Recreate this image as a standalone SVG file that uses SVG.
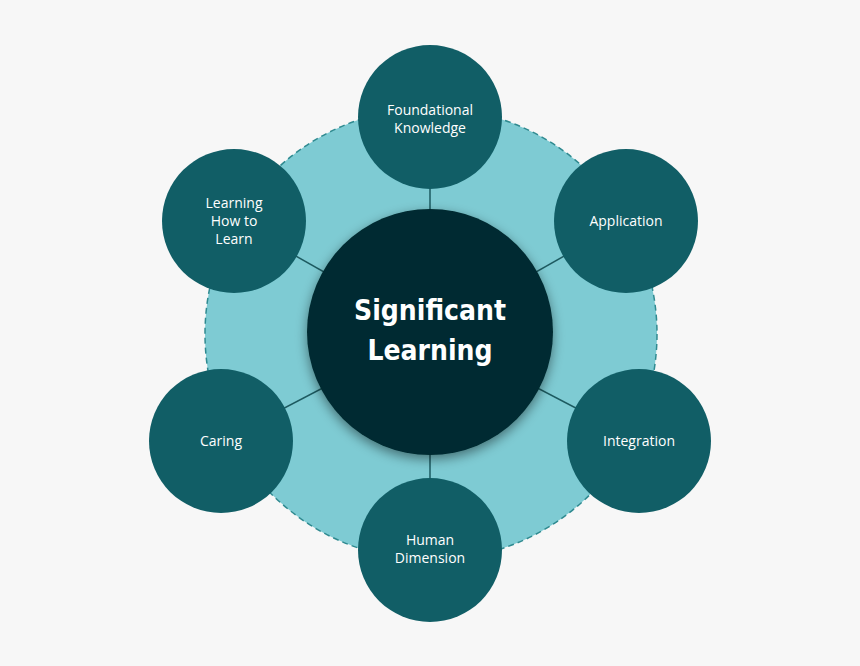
<svg xmlns="http://www.w3.org/2000/svg" width="860" height="666" viewBox="0 0 860 666">
<defs>
<style>
.n{fill:#115e66}
.t{fill:#fff;font-family:"Open Sans","Liberation Sans",sans-serif;font-size:14px;text-anchor:middle}
.c{stroke:#1d5a60;stroke-width:1.5}
</style>
<filter id="sh" x="-30%" y="-30%" width="160%" height="160%"><feDropShadow dx="0" dy="4" stdDeviation="6" flood-color="#000" flood-opacity="0.45"/></filter>
</defs>
<rect width="860" height="666" fill="#f7f7f7"/>
<circle cx="431" cy="334" r="226" fill="#7ecbd3" stroke="#2f8a90" stroke-width="1.5" stroke-dasharray="6 4"/>
<g id="connectors">
<line class="c" x1="430" y1="332" x2="430" y2="117"/>
<line class="c" x1="430" y1="332" x2="626" y2="221"/>
<line class="c" x1="430" y1="332" x2="639" y2="441"/>
<line class="c" x1="430" y1="332" x2="430" y2="550"/>
<line class="c" x1="430" y1="332" x2="221" y2="441"/>
<line class="c" x1="430" y1="332" x2="234" y2="221"/>
</g>
<g id="center"><circle cx="430" cy="332" r="123" fill="#022b30" filter="url(#sh)"/>
<text x="430" y="320" fill="#fff" font-family="'DejaVu Sans Condensed','Liberation Sans',sans-serif" font-weight="bold" font-size="28" text-anchor="middle">Significant</text>
<text x="430" y="360" fill="#fff" font-family="'DejaVu Sans Condensed','Liberation Sans',sans-serif" font-weight="bold" font-size="28" text-anchor="middle">Learning</text></g>
<g id="foundational"><circle class="n" cx="430" cy="117" r="72"/><text class="t" x="430" y="115">Foundational</text><text class="t" x="430" y="133">Knowledge</text></g>
<g id="application"><circle class="n" cx="626" cy="221" r="72"/><text class="t" x="626" y="226">Application</text></g>
<g id="integration"><circle class="n" cx="639" cy="441" r="72"/><text class="t" x="639" y="446">Integration</text></g>
<g id="human"><circle class="n" cx="430" cy="550" r="72"/><text class="t" x="430" y="545">Human</text><text class="t" x="430" y="563">Dimension</text></g>
<g id="caring"><circle class="n" cx="221" cy="441" r="72"/><text class="t" x="221" y="446">Caring</text></g>
<g id="learning"><circle class="n" cx="234" cy="221" r="72"/><text class="t" x="234" y="208">Learning</text><text class="t" x="234" y="226">How to</text><text class="t" x="234" y="244">Learn</text></g>
</svg>
